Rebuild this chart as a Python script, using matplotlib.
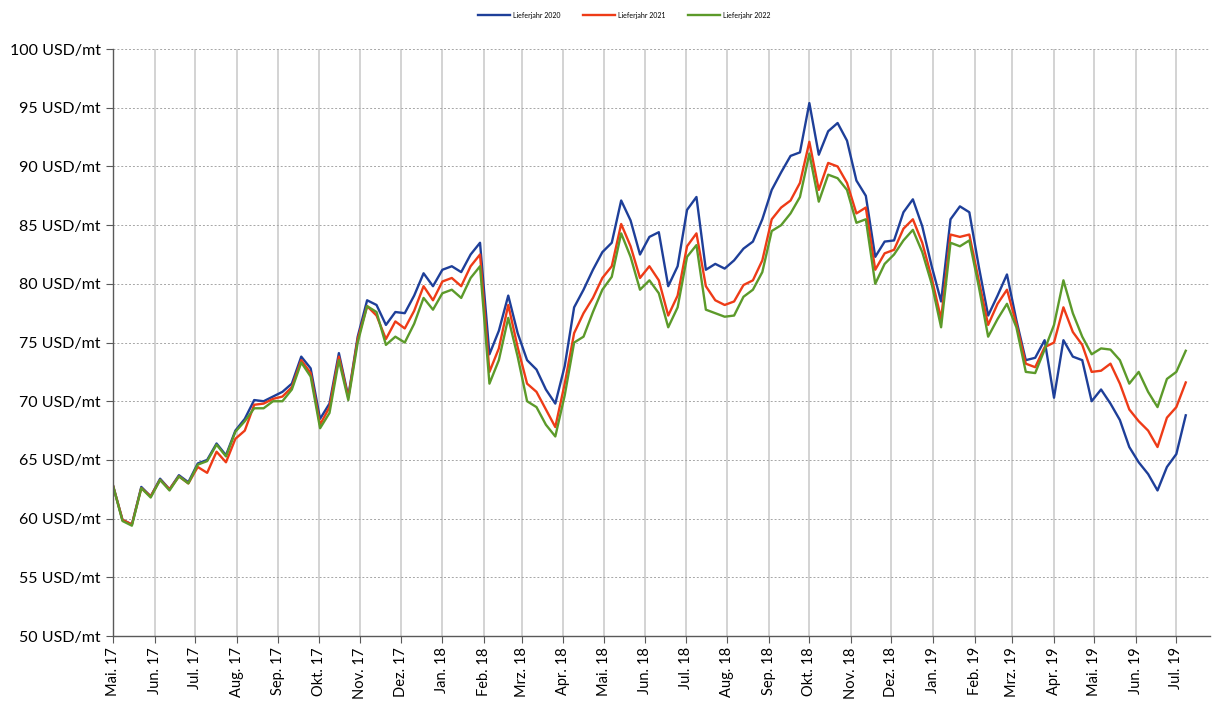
import pandas as pd
import matplotlib
matplotlib.use("Agg")
import matplotlib.pyplot as plt

# weekly readings, starting 1 May 2017
start = "2017-05-01"

lj_2020 = [62.8, 59.9, 59.5, 62.7, 61.9, 63.4, 62.5, 63.7, 63.1, 64.7,
           65.0, 66.4, 65.4, 67.5, 68.5, 70.1, 70.0, 70.4, 70.8, 71.5,
           73.8, 72.8, 68.5, 69.8, 74.1, 70.4, 75.5, 78.6, 78.2, 76.5,
           77.6, 77.5, 79.0, 80.9, 79.8, 81.2, 81.5, 81.0, 82.5, 83.5,
           74.0, 76.0, 79.0, 75.8, 73.5, 72.7, 71.0, 69.8, 73.0, 78.0,
           79.5, 81.2, 82.7, 83.5, 87.1, 85.4, 82.5, 84.0, 84.4, 79.8,
           81.5, 86.3, 87.4, 81.2, 81.7, 81.3, 82.0, 83.0, 83.6, 85.5,
           88.0, 89.5, 90.9, 91.2, 95.4, 91.0, 93.0, 93.7, 92.2, 88.8,
           87.5, 82.3, 83.6, 83.7, 86.1, 87.2, 84.9, 81.5, 78.5, 85.5,
           86.6, 86.1, 81.5, 77.3, 79.0, 80.8, 76.9, 73.5, 73.7, 75.2,
           70.3, 75.2, 73.8, 73.5, 70.0, 71.0, 69.8, 68.4, 66.1, 64.8,
           63.8, 62.4, 64.4, 65.5, 68.8]

lj_2021 = [62.8, 59.9, 59.5, 62.6, 61.9, 63.3, 62.5, 63.6, 63.0, 64.4,
           63.9, 65.7, 64.8, 66.8, 67.5, 69.7, 69.8, 70.2, 70.4, 71.2,
           73.5, 72.4, 68.0, 69.5, 73.8, 70.3, 75.3, 78.1, 77.3, 75.3,
           76.8, 76.2, 77.7, 79.8, 78.6, 80.2, 80.5, 79.8, 81.5, 82.5,
           72.5, 74.5, 78.2, 74.6, 71.5, 70.8, 69.3, 67.8, 71.5, 75.8,
           77.5, 78.8, 80.5, 81.5, 85.1, 83.2, 80.5, 81.5, 80.3, 77.3,
           79.0, 83.2, 84.3, 79.8, 78.6, 78.2, 78.5, 79.9, 80.3, 82.0,
           85.5, 86.5, 87.1, 88.6, 92.1, 88.0, 90.3, 90.0, 88.6, 86.0,
           86.5, 81.2, 82.6, 82.9, 84.7, 85.5, 83.5, 80.5, 77.0, 84.2,
           84.0, 84.2, 80.3, 76.5, 78.3, 79.5, 76.6, 73.2, 72.9, 74.6,
           75.0, 78.0, 75.9, 74.8, 72.5, 72.6, 73.2, 71.5, 69.3, 68.3,
           67.5, 66.1, 68.6, 69.5, 71.6]

lj_2022 = [62.8, 59.8, 59.4, 62.6, 61.8, 63.3, 62.4, 63.6, 63.0, 64.6,
           64.9, 66.3, 65.3, 67.4, 68.3, 69.4, 69.4, 70.0, 70.0, 71.0,
           73.3, 72.1, 67.7, 69.0, 73.5, 70.1, 75.0, 78.1, 77.6, 74.8,
           75.5, 75.0, 76.6, 78.8, 77.8, 79.2, 79.5, 78.8, 80.5, 81.5,
           71.5, 73.5, 77.1, 73.8, 70.0, 69.5, 68.0, 67.0, 70.5, 75.0,
           75.5, 77.6, 79.5, 80.6, 84.3, 82.3, 79.5, 80.3, 79.2, 76.3,
           78.0, 82.3, 83.3, 77.8, 77.5, 77.2, 77.3, 78.9, 79.5, 81.0,
           84.5, 85.0, 86.0, 87.4, 91.1, 87.0, 89.3, 89.0, 88.0, 85.2,
           85.5, 80.0, 81.7, 82.5, 83.7, 84.6, 82.7, 80.0, 76.3, 83.5,
           83.2, 83.7, 79.8, 75.5, 77.0, 78.3, 76.3, 72.5, 72.4, 74.4,
           76.5, 80.3, 77.5, 75.5, 74.0, 74.5, 74.4, 73.5, 71.5, 72.5,
           70.8, 69.5, 71.9, 72.5, 74.3]

dates = pd.date_range(start, periods=len(lj_2020), freq="7D")

monate = ["Mai.", "Jun.", "Jul.", "Aug.", "Sep.", "Okt.", "Nov.", "Dez.",
          "Jan.", "Feb.", "Mrz.", "Apr."]
tick_dates = pd.date_range("2017-05-01", "2019-07-01", freq="MS")
tick_labels = [monate[(d.month - 5) % 12] + " " + d.strftime("%y") for d in tick_dates]

plt.rcParams["font.family"] = ["Lato", "DejaVu Sans"]

fig = plt.figure(figsize=(12.17, 7.01), dpi=100)
ax = fig.add_axes([0.0929, 0.0927, 0.9013, 0.8373])

ax.plot(dates, lj_2020, color="#1E3F99", lw=1.7, label="Lieferjahr 2020")
ax.plot(dates, lj_2021, color="#EE3B17", lw=1.7, label="Lieferjahr 2021")
ax.plot(dates, lj_2022, color="#5C9A2A", lw=1.7, label="Lieferjahr 2022")

ax.set_ylim(50, 100)
ax.set_xlim(pd.Timestamp("2017-05-01"), pd.Timestamp("2019-07-26"))
ax.set_yticks(range(50, 101, 5))
ax.set_yticklabels([f"{v} USD/mt" for v in range(50, 101, 5)], fontsize=11.5)
ax.set_xticks(tick_dates)
ax.set_xticklabels(tick_labels, rotation=90, fontsize=10.5)

ax.grid(axis="y", color="#a6a6a6", ls=(0, (2, 2)), lw=0.7)
ax.grid(axis="x", color="#c8c8c8", ls="-", lw=1.1)
ax.set_axisbelow(True)
for s in ["top", "right"]:
    ax.spines[s].set_visible(False)
for s in ["left", "bottom"]:
    ax.spines[s].set_color("#595959")
    ax.spines[s].set_linewidth(1.0)
ax.tick_params(axis="both", direction="out", length=5, color="#595959", pad=4)
ax.tick_params(axis="x", pad=3)

fig.legend(loc="upper center", bbox_to_anchor=(0.513, 0.992), ncol=3, frameon=False,
           fontsize=5, handlelength=4.6, handletextpad=0.5, columnspacing=3.2)

fig.savefig("out.png", dpi=100)
